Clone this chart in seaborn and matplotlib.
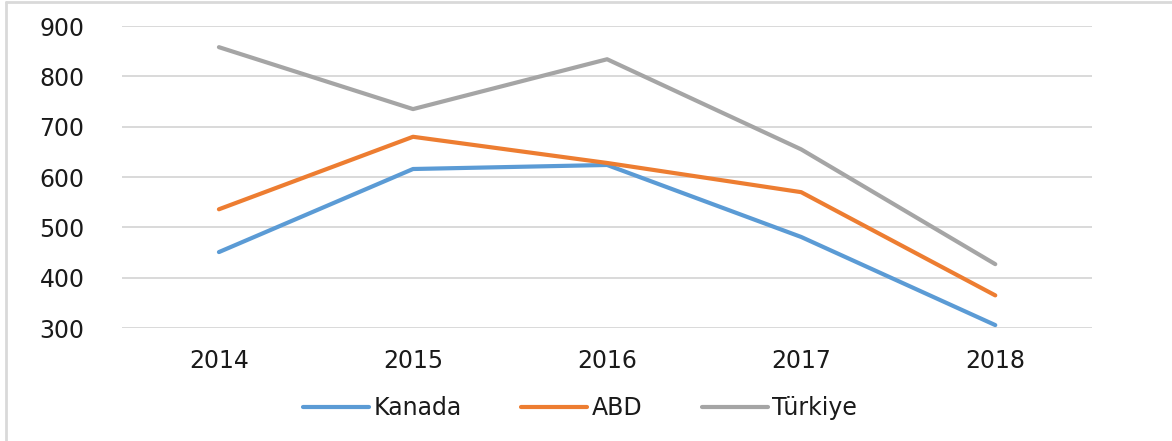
import matplotlib
matplotlib.use("Agg")
import matplotlib.pyplot as plt
import pandas as pd
import seaborn as sns
from matplotlib.lines import Line2D

years = ["2014", "2015", "2016", "2017", "2018"]
kanada = [451, 616, 624, 481, 306]
abd = [536, 680, 628, 570, 365]
turkiye = [858, 735, 834, 655, 427]
series_names = ["Kanada", "ABD", "Türkiye"]
colors = ["#5B9BD5", "#ED7D31", "#A5A5A5"]

df = pd.DataFrame({
    "Yıl": years * 3,
    "Değer": kanada + abd + turkiye,
    "Ülke": [n for n in series_names for _ in years],
})

sns.set_theme(style="white")
plt.rcParams["font.family"] = ["DejaVu Sans"]

fig = plt.figure(figsize=(11.72, 4.41), dpi=100)
ax = fig.add_axes([0.104, 0.256, 0.828, 0.685])

sns.lineplot(data=df, x="Yıl", y="Değer", hue="Ülke", palette=colors,
             linewidth=3.0, legend=False, ax=ax, zorder=3)

ax.set_xlim(-0.5, 4.5)
ax.set_ylim(300, 900)
ax.set_yticks(range(300, 901, 100))
ax.yaxis.grid(True, color="#D9D9D9", linewidth=1.4, zorder=0)
ax.xaxis.grid(False)
for s in ax.spines.values():
    s.set_visible(False)
ax.set_xlabel("")
ax.set_ylabel("")
ax.tick_params(axis="y", length=0, pad=27, labelsize=17, labelcolor="#1a1a1a")
ax.tick_params(axis="x", length=0, pad=15, labelsize=17, labelcolor="#1a1a1a")

handles = [Line2D([0], [0], color=c, lw=3.0) for c in colors]
fig.legend(handles, series_names, loc="center", bbox_to_anchor=(0.495, 0.075),
           ncol=3, frameon=False, fontsize=17, handlelength=2.8,
           handletextpad=0.2, columnspacing=2.5, labelcolor="#1a1a1a")

# chart frame (left and top edges visible)
fig.add_artist(Line2D([0.005, 0.005], [0.0, 0.995], color="#D9D9D9", lw=2,
                      transform=fig.transFigure))
fig.add_artist(Line2D([0.005, 1.0], [0.995, 0.995], color="#D9D9D9", lw=2,
                      transform=fig.transFigure))

fig.savefig("out.png", dpi=100)
